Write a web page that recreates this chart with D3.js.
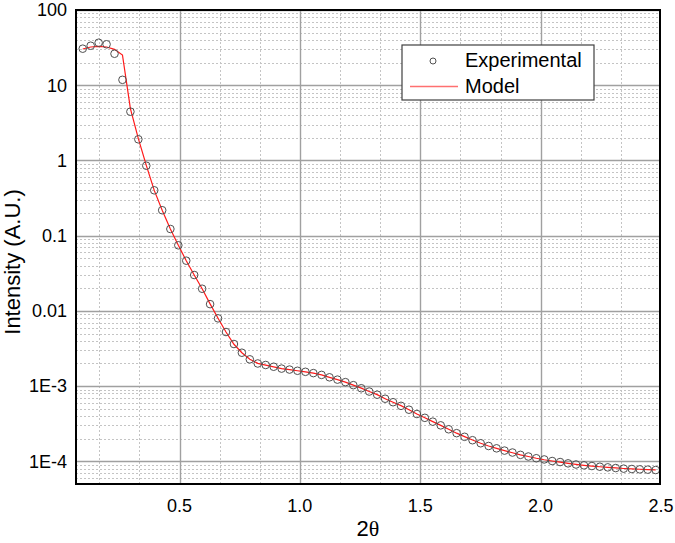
<!DOCTYPE html>
<html>
<head>
<meta charset="utf-8">
<script src="https://cdn.jsdelivr.net/npm/d3@7"></script>
<style>
  body { margin: 0; background: #fff; }
  text { font-family: "Liberation Sans", Arial, sans-serif; fill: #000; }
</style>
</head>
<body>
<div id="chart"></div>
<script>
// 2theta values (shared by both series)
const twoTheta = [
  0.098, 0.131, 0.164, 0.197, 0.230, 0.263, 0.296, 0.329, 0.362, 0.395,
  0.428, 0.462, 0.495, 0.528, 0.561, 0.594, 0.627, 0.660, 0.693, 0.726,
  0.759, 0.792, 0.825, 0.858, 0.891, 0.924, 0.957, 0.990, 1.023, 1.056,
  1.090, 1.123, 1.156, 1.189, 1.222, 1.255, 1.288, 1.321, 1.354, 1.387,
  1.420, 1.453, 1.486, 1.519, 1.552, 1.585, 1.618, 1.651, 1.684, 1.717,
  1.751, 1.784, 1.817, 1.850, 1.883, 1.916, 1.949, 1.982, 2.015, 2.048,
  2.081, 2.114, 2.147, 2.180, 2.213, 2.246, 2.279, 2.312, 2.345, 2.379,
  2.412, 2.445, 2.478
];

const experimental = [
  30.6, 33.5, 36.7, 35.0, 26.2, 11.8, 4.45, 1.91, 0.851, 0.401,
  0.218, 0.1227, 0.0745, 0.0465, 0.0300, 0.0197, 0.0123, 0.00796, 0.00524, 0.00363,
  0.00278, 0.00227, 0.00200, 0.00191, 0.00181, 0.00171, 0.00166, 0.00160, 0.00155, 0.00149,
  0.00141, 0.00131, 0.00122, 0.00113, 0.00103, 9.37e-4, 8.47e-4, 7.69e-4, 6.80e-4, 6.11e-4,
  5.47e-4, 4.86e-4, 4.26e-4, 3.79e-4, 3.37e-4, 3.01e-4, 2.67e-4, 2.37e-4, 2.12e-4, 1.91e-4,
  1.74e-4, 1.60e-4, 1.49e-4, 1.39e-4, 1.31e-4, 1.22e-4, 1.16e-4, 1.10e-4, 1.06e-4, 1.01e-4,
  9.79e-5, 9.41e-5, 9.08e-5, 8.85e-5, 8.67e-5, 8.48e-5, 8.32e-5, 8.15e-5, 8.00e-5, 7.91e-5,
  7.83e-5, 7.76e-5, 7.67e-5
];

const model = [
  30.3, 32.2, 32.9, 32.2, 30.0, 25.2, 4.9, 1.95, 0.86, 0.40,
  0.218, 0.123, 0.0745, 0.0465, 0.0300, 0.0197, 0.0124, 0.0080, 0.00525, 0.00360,
  0.00278, 0.00228, 0.00201, 0.00190, 0.00180, 0.00171, 0.00166, 0.00160, 0.00155, 0.00149,
  0.00141, 0.00131, 0.00122, 0.00113, 0.00103, 9.4e-4, 8.5e-4, 7.7e-4, 6.8e-4, 6.1e-4,
  5.5e-4, 4.86e-4, 4.27e-4, 3.79e-4, 3.37e-4, 3.01e-4, 2.67e-4, 2.37e-4, 2.13e-4, 1.92e-4,
  1.74e-4, 1.60e-4, 1.49e-4, 1.39e-4, 1.30e-4, 1.22e-4, 1.16e-4, 1.10e-4, 1.05e-4, 1.01e-4,
  9.75e-5, 9.40e-5, 9.10e-5, 8.85e-5, 8.65e-5, 8.48e-5, 8.32e-5, 8.17e-5, 8.03e-5, 7.93e-5,
  7.85e-5, 7.78e-5, 7.70e-5
];

// tick labels
const xTicks = [0.5, 1.0, 1.5, 2.0, 2.5];
const yTicks = [100, 10, 1, 0.1, 0.01, 1e-3, 1e-4];
const yTickLabels = ["100", "10", "1", "0.1", "0.01", "1E-3", "1E-4"];

const svgWidth = 675,
  svgHeight = 543;
const margin = { top: 10, right: 15, bottom: 59, left: 76 },
  width = svgWidth - margin.left - margin.right,
  height = svgHeight - margin.top - margin.bottom;

const svg = d3
  .select("#chart")
  .append("svg")
  .attr("width", svgWidth)
  .attr("height", svgHeight);

const g = svg
  .append("g")
  .attr("transform", "translate(" + margin.left + "," + margin.top + ")");

const x = d3.scaleLinear().domain([0.07, 2.5]).range([0, width + 1]);
const y = d3.scaleLog().domain([5e-5, 100]).range([height, 0]);

g.append("clipPath")
  .attr("id", "clip")
  .append("rect")
  .attr("width", width)
  .attr("height", height);

const grid = g.append("g").attr("clip-path", "url(#clip)");

// minor grid: x every 1/6, y 2..9 of each decade
const xMinor = d3.range(1, 15).map((k) => k / 6).filter((v) => Math.abs(v * 2 - Math.round(v * 2)) > 1e-6);
const yMinor = [];
for (let e = -5; e < 2; e++) {
  for (let m = 2; m <= 9; m++) yMinor.push(m * Math.pow(10, e));
}

grid
  .selectAll(".xminor")
  .data(xMinor)
  .enter()
  .append("line")
  .attr("x1", (d) => Math.round(x(d)) + 0.5)
  .attr("x2", (d) => Math.round(x(d)) + 0.5)
  .attr("y1", 0)
  .attr("y2", height)
  .attr("stroke", "#c4c4c4")
  .attr("stroke-dasharray", "2,2");

grid
  .selectAll(".yminor")
  .data(yMinor)
  .enter()
  .append("line")
  .attr("x1", 0)
  .attr("x2", width)
  .attr("y1", (d) => Math.round(y(d)) + 0.5)
  .attr("y2", (d) => Math.round(y(d)) + 0.5)
  .attr("stroke", "#c4c4c4")
  .attr("stroke-dasharray", "2,2");

grid
  .selectAll(".xmajor")
  .data(xTicks)
  .enter()
  .append("line")
  .attr("x1", (d) => Math.round(x(d)) + 0.5)
  .attr("x2", (d) => Math.round(x(d)) + 0.5)
  .attr("y1", 0)
  .attr("y2", height)
  .attr("stroke", "#a0a0a0")
  .attr("stroke-width", 1.4);

grid
  .selectAll(".ymajor")
  .data(yTicks)
  .enter()
  .append("line")
  .attr("x1", 0)
  .attr("x2", width)
  .attr("y1", (d) => Math.round(y(d)) + 0.5)
  .attr("y2", (d) => Math.round(y(d)) + 0.5)
  .attr("stroke", "#a0a0a0")
  .attr("stroke-width", 1.4);

// model line
const line = d3
  .line()
  .x((d, i) => x(twoTheta[i]))
  .y((d) => y(d));

g.append("path")
  .datum(model)
  .attr("fill", "none")
  .attr("stroke", "#ff1a1a")
  .attr("stroke-width", 1.2)
  .attr("d", line);

// experimental points
g.selectAll(".pt")
  .data(experimental)
  .enter()
  .append("circle")
  .attr("cx", (d, i) => x(twoTheta[i]))
  .attr("cy", (d) => y(d))
  .attr("r", 3.8)
  .attr("fill", "none")
  .attr("stroke", "#505050")
  .attr("stroke-width", 1);

// frame
g.append("rect")
  .attr("width", width)
  .attr("height", height)
  .attr("fill", "none")
  .attr("stroke", "#000")
  .attr("stroke-width", 2);

// tick labels
g.selectAll(".xlab")
  .data(xTicks)
  .enter()
  .append("text")
  .attr("x", (d) => x(d))
  .attr("y", height + 28)
  .attr("text-anchor", "middle")
  .style("font-size", "18px")
  .text((d) => d.toFixed(1));

g.selectAll(".ylab")
  .data(yTicks)
  .enter()
  .append("text")
  .attr("x", -9)
  .attr("y", (d) => y(d))
  .attr("dy", "0.35em")
  .attr("text-anchor", "end")
  .style("font-size", "18px")
  .text((d, i) => yTickLabels[i]);

// axis titles
const xTitle = svg
  .append("text")
  .attr("x", 368)
  .attr("y", 536)
  .attr("text-anchor", "middle")
  .style("font-size", "22px");
xTitle.append("tspan").text("2");
xTitle
  .append("tspan")
  .style("font-family", "'Liberation Serif', serif")
  .text("\u03B8");

svg
  .append("text")
  .attr("transform", "translate(20,262) rotate(-90)")
  .attr("text-anchor", "middle")
  .style("font-size", "22px")
  .text("Intensity (A.U.)");

// legend
const legend = svg.append("g").attr("transform", "translate(402,45)");
legend
  .append("rect")
  .attr("width", 192)
  .attr("height", 55)
  .attr("fill", "#fff")
  .attr("stroke", "#404040")
  .attr("stroke-width", 1.2);
legend
  .append("circle")
  .attr("cx", 31)
  .attr("cy", 16)
  .attr("r", 3)
  .attr("fill", "none")
  .attr("stroke", "#505050");
legend
  .append("line")
  .attr("x1", 8)
  .attr("x2", 56)
  .attr("y1", 41.5)
  .attr("y2", 41.5)
  .attr("stroke", "#ff7070")
  .attr("stroke-width", 1.5);
legend
  .append("text")
  .attr("x", 63)
  .attr("y", 22)
  .style("font-size", "20px")
  .text("Experimental");
legend
  .append("text")
  .attr("x", 63)
  .attr("y", 48)
  .style("font-size", "20px")
  .text("Model");
</script>
</body>
</html>
